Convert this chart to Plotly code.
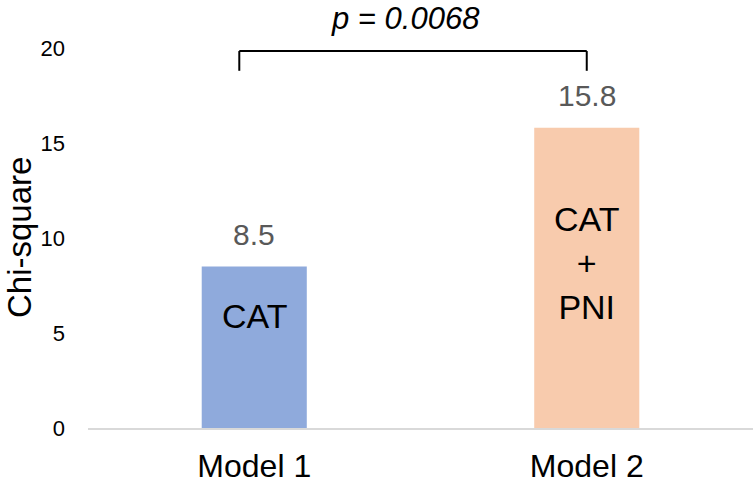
import plotly.graph_objects as go

categories = ["Model 1", "Model 2"]
chi_square = [8.5, 15.8]
inner_labels = ["CAT", "CAT<br>+<br>PNI"]
bar_colors = ["#8FAADC", "#F8CBAD"]
p_text = "p = 0.0068"
y_ticks = [0, 5, 10, 15, 20]

FONT = "Arial, Liberation Sans, sans-serif"

fig = go.Figure()
fig.add_trace(go.Bar(
    x=categories, y=chi_square,
    marker=dict(color=bar_colors, line=dict(width=0)),
    width=0.316, hoverinfo="x+y",
))

annotations = []
# value labels above bars
for c, v in zip(categories, chi_square):
    annotations.append(dict(
        x=c, y=v, xref="x", yref="y", text=f"{v}", showarrow=False,
        yanchor="bottom", yshift=14, font=dict(family=FONT, size=30, color="#595959")))
# inner labels
inner_y = [5.9, 8.7]
for c, lab, yy in zip(categories, inner_labels, inner_y):
    annotations.append(dict(
        x=c, y=yy, xref="x", yref="y", text=lab, showarrow=False,
        yanchor="middle", font=dict(family=FONT, size=34, color="#000000")))
# p-value
annotations.append(dict(
    x=0.456, y=1.0, xref="x", yref="paper", text=f"<i>{p_text}</i>", showarrow=False,
    yanchor="middle", yshift=30, font=dict(family=FONT, size=31, color="#000000")))
# y-axis title
annotations.append(dict(
    x=(19 - 88) / 665, y=0.5, xref="paper", yref="paper", text="Chi-square",
    textangle=-90, showarrow=False, xanchor="center", yanchor="middle",
    font=dict(family=FONT, size=33, color="#000000")))

bx0, bx1 = -0.045, 1.0
by0, by1 = 18.8, 19.84
line = dict(color="#000000", width=2)
shapes = [
    dict(type="line", xref="x", yref="y", x0=bx0, x1=bx0, y0=by0, y1=by1, line=line),
    dict(type="line", xref="x", yref="y", x0=bx0, x1=bx1, y0=by1, y1=by1, line=line),
    dict(type="line", xref="x", yref="y", x0=bx1, x1=bx1, y0=by0, y1=by1, line=line),
]

fig.update_layout(
    width=755, height=484,
    margin=dict(l=88, r=2, t=48, b=56),
    paper_bgcolor="white", plot_bgcolor="white",
    showlegend=False,
    annotations=annotations, shapes=shapes,
    font=dict(family=FONT, color="#000000"),
    xaxis=dict(
        type="category", range=[-0.5, 1.5], automargin=False,
        showline=True, linecolor="#D9D9D9", linewidth=1.5,
        showgrid=False, zeroline=False, ticks="",
        tickfont=dict(family=FONT, size=32, color="#000000"),
        ticklabelstandoff=9,
    ),
    yaxis=dict(
        range=[0, 20], tickvals=y_ticks, automargin=False,
        showline=False, showgrid=False, zeroline=False, ticks="",
        tickfont=dict(family=FONT, size=22, color="#000000"),
        ticklabelstandoff=22,
    ),
)

fig.write_html(
    "out.html",
    config={"displayModeBar": False},
    post_script="document.body.style.margin='0';document.body.style.overflow='hidden';",
)
